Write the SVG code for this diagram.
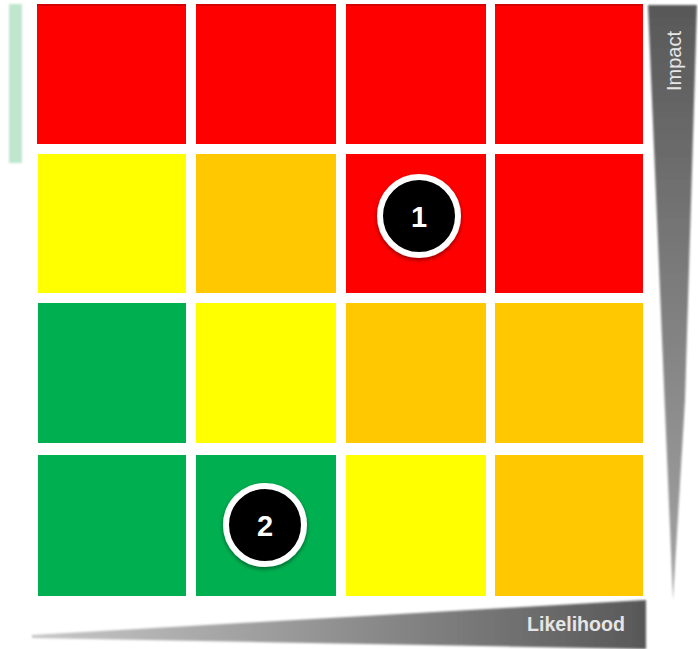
<svg xmlns="http://www.w3.org/2000/svg" width="698" height="649" viewBox="0 0 698 649">
  <style>
    .r { fill: #ff0000; }
    .y { fill: #ffff00; }
    .o { fill: #ffc800; }
    .g { fill: #00b050; }
    .edge { fill: #a00000; opacity: 0.45; }
    .ring { fill: #000000; stroke: #ffffff; stroke-width: 6; }
    .num { font-family: "Liberation Sans", Arial, sans-serif; font-weight: bold; font-size: 29px; fill: #ffffff; text-anchor: middle; }
    .axis { font-family: "Liberation Sans", Arial, sans-serif; font-size: 20px; fill: #e6e6e6; }
  </style>
  <defs>
    <linearGradient id="gv" x1="0" y1="0" x2="0" y2="1">
      <stop offset="0" stop-color="#585858"/>
      <stop offset="1" stop-color="#a5a5a5"/>
    </linearGradient>
    <linearGradient id="gh" x1="0" y1="0" x2="1" y2="0">
      <stop offset="0" stop-color="#c8c8c8"/>
      <stop offset="1" stop-color="#585858"/>
    </linearGradient>
    <filter id="soft" x="-10%" y="-10%" width="120%" height="120%">
      <feGaussianBlur stdDeviation="0.8"/>
    </filter>
    <filter id="shadow" x="-30%" y="-30%" width="160%" height="160%">
      <feDropShadow dx="0" dy="2" stdDeviation="2" flood-color="#000000" flood-opacity="0.45"/>
    </filter>
  </defs>

  <g id="left-bar">
    <rect x="9" y="4" width="13" height="159" fill="#c0e6cd" filter="url(#soft)"/>
  </g>

  <g id="row1">
    <g id="cell-1-1"><rect class="r" x="37" y="4" width="149" height="140"/><rect class="edge" x="37" y="4" width="149" height="2"/></g>
    <g id="cell-1-2"><rect class="r" x="196" y="4" width="140" height="140"/><rect class="edge" x="196" y="4" width="140" height="2"/></g>
    <g id="cell-1-3"><rect class="r" x="346" y="4" width="140" height="140"/><rect class="edge" x="346" y="4" width="140" height="2"/></g>
    <g id="cell-1-4"><rect class="r" x="495" y="4" width="148" height="140"/><rect class="edge" x="495" y="4" width="148" height="2"/></g>
  </g>
  <g id="row2">
    <g id="cell-2-1"><rect class="y" x="38" y="154" width="148" height="139"/></g>
    <g id="cell-2-2"><rect class="o" x="196" y="154" width="140" height="139"/></g>
    <g id="cell-2-3"><rect class="r" x="346" y="154" width="140" height="139"/></g>
    <g id="cell-2-4"><rect class="r" x="495" y="154" width="148" height="139"/></g>
  </g>
  <g id="row3">
    <g id="cell-3-1"><rect class="g" x="38" y="303" width="148" height="140"/></g>
    <g id="cell-3-2"><rect class="y" x="196" y="303" width="140" height="140"/></g>
    <g id="cell-3-3"><rect class="o" x="346" y="303" width="140" height="140"/></g>
    <g id="cell-3-4"><rect class="o" x="495" y="303" width="148" height="140"/></g>
  </g>
  <g id="row4">
    <g id="cell-4-1"><rect class="g" x="38" y="455" width="148" height="141"/></g>
    <g id="cell-4-2"><rect class="g" x="196" y="455" width="140" height="141"/></g>
    <g id="cell-4-3"><rect class="y" x="346" y="455" width="140" height="141"/></g>
    <g id="cell-4-4"><rect class="o" x="495" y="455" width="148" height="141"/></g>
  </g>

  <g id="impact-axis">
    <polygon points="648,5 697,5 685,400 673,600" fill="url(#gv)" filter="url(#soft)"/>
    <text class="axis" transform="translate(681,61) rotate(-90)" text-anchor="middle">Impact</text>
  </g>

  <g id="likelihood-axis">
    <polygon points="32,635 646,600 646,649 32,638" fill="url(#gh)" filter="url(#soft)"/>
    <text class="axis" x="527" y="631" textLength="98" lengthAdjust="spacingAndGlyphs" font-weight="bold">Likelihood</text>
  </g>

  <g id="marker-1">
    <circle class="ring" cx="419" cy="216" r="39" filter="url(#shadow)"/>
    <text class="num" x="419" y="227">1</text>
  </g>
  <g id="marker-2">
    <circle class="ring" cx="265" cy="525" r="39" filter="url(#shadow)"/>
    <text class="num" x="265" y="536">2</text>
  </g>
</svg>
